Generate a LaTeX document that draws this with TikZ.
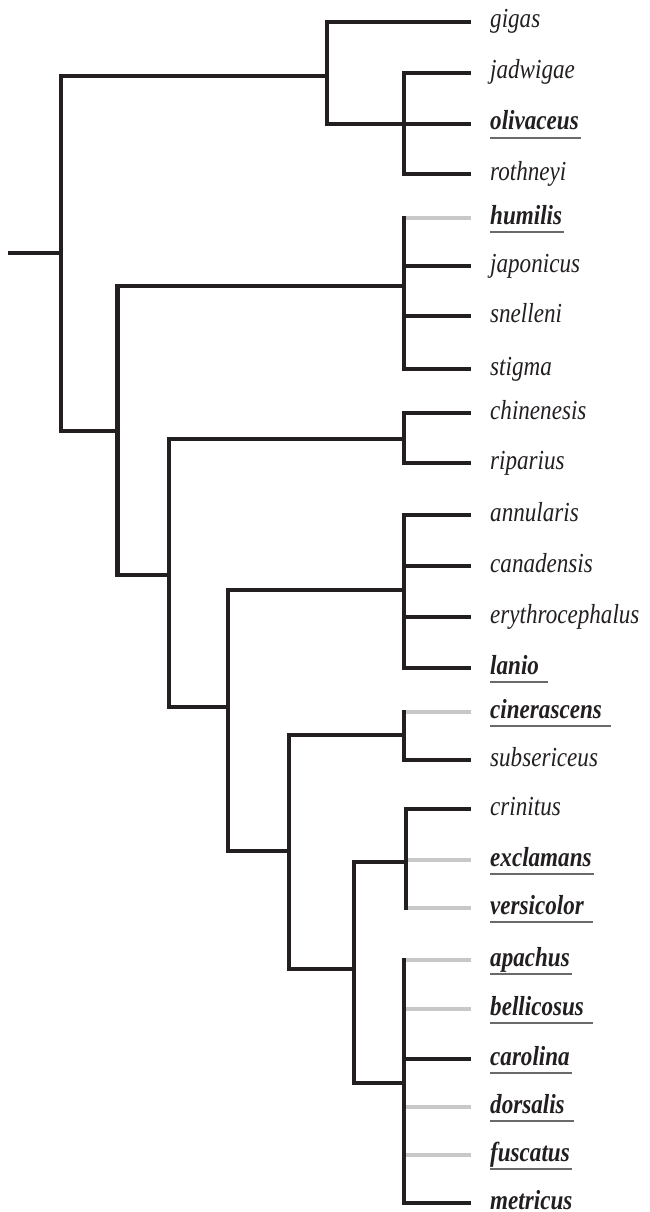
\documentclass[tikz,border=0pt]{standalone}
\usepackage{fontspec}
\setmainfont{Liberation Serif}[FakeStretch=0.84]
\definecolor{ink}{HTML}{231F20}
\definecolor{pale}{HTML}{C8C8C8}
\definecolor{ulc}{HTML}{6A6A6A}
\begin{document}
\begin{tikzpicture}[x=1pt,y=-1pt,
  br/.style={draw=ink, line width=4.6pt, line cap=rect, line join=miter},
  gr/.style={draw=pale, line width=4.2pt, line cap=butt},
  lab/.style={anchor=base west, inner sep=0pt, text=ink, font=\fontsize{27.5}{30}\selectfont\itshape},
  blab/.style={lab, font=\fontsize{27.5}{30}\selectfont\bfseries\itshape},
  ul/.style={draw=ulc, line width=1.1pt}]
\useasboundingbox (0,0) rectangle (649,1212);
% leaf ends
\coordinate (l0) at (469,22);
\coordinate (l1) at (469,73);
\coordinate (l2) at (469,124);
\coordinate (l3) at (469,174);
\coordinate (l4) at (469,218);
\coordinate (l5) at (469,266);
\coordinate (l6) at (469,316);
\coordinate (l7) at (469,369);
\coordinate (l8) at (469,413);
\coordinate (l9) at (469,463);
\coordinate (l10) at (469,515);
\coordinate (l11) at (469,566);
\coordinate (l12) at (469,617);
\coordinate (l13) at (469,668);
\coordinate (l14) at (469,712);
\coordinate (l15) at (469,760);
\coordinate (l16) at (469,809);
\coordinate (l17) at (469,860);
\coordinate (l18) at (469,908);
\coordinate (l19) at (469,960);
\coordinate (l20) at (469,1009);
\coordinate (l21) at (469,1059);
\coordinate (l22) at (469,1107);
\coordinate (l23) at (469,1155);
\coordinate (l24) at (469,1203);
% labels
\node[lab]  (gigas) at ([xshift=21pt,yshift=-6pt]l0) {gigas};
\node[lab]  (jadwigae) at ([xshift=21pt,yshift=-6pt]l1) {jadwigae};
\node[blab] (olivaceus) at ([xshift=21pt,yshift=-6pt]l2) {olivaceus};
\node[lab]  (rothneyi) at ([xshift=21pt,yshift=-6pt]l3) {rothneyi};
\node[blab] (humilis) at ([xshift=21pt,yshift=-6pt]l4) {humilis};
\node[lab]  (japonicus) at ([xshift=21pt,yshift=-6pt]l5) {japonicus};
\node[lab]  (snelleni) at ([xshift=21pt,yshift=-6pt]l6) {snelleni};
\node[lab]  (stigma) at ([xshift=21pt,yshift=-6pt]l7) {stigma};
\node[lab]  (chinenesis) at ([xshift=21pt,yshift=-6pt]l8) {chinenesis};
\node[lab]  (riparius) at ([xshift=21pt,yshift=-6pt]l9) {riparius};
\node[lab]  (annularis) at ([xshift=21pt,yshift=-6pt]l10) {annularis};
\node[lab]  (canadensis) at ([xshift=21pt,yshift=-6pt]l11) {canadensis};
\node[lab]  (erythrocephalus) at ([xshift=21pt,yshift=-6pt]l12) {erythrocephalus};
\node[blab] (lanio) at ([xshift=21pt,yshift=-6pt]l13) {lanio};
\node[blab] (cinerascens) at ([xshift=21pt,yshift=-6pt]l14) {cinerascens};
\node[lab]  (subsericeus) at ([xshift=21pt,yshift=-6pt]l15) {subsericeus};
\node[lab]  (crinitus) at ([xshift=21pt,yshift=-6pt]l16) {crinitus};
\node[blab] (exclamans) at ([xshift=21pt,yshift=-6pt]l17) {exclamans};
\node[blab] (versicolor) at ([xshift=21pt,yshift=-6pt]l18) {versicolor};
\node[blab] (apachus) at ([xshift=21pt,yshift=-6pt]l19) {apachus};
\node[blab] (bellicosus) at ([xshift=21pt,yshift=-6pt]l20) {bellicosus};
\node[blab] (carolina) at ([xshift=21pt,yshift=-6pt]l21) {carolina};
\node[blab] (dorsalis) at ([xshift=21pt,yshift=-6pt]l22) {dorsalis};
\node[blab] (fuscatus) at ([xshift=21pt,yshift=-6pt]l23) {fuscatus};
\node[blab] (metricus) at ([xshift=21pt,yshift=-6pt]l24) {metricus};
% underlines
\foreach \n/\e in {olivaceus/2,humilis/2,lanio/9,cinerascens/9,exclamans/2,versicolor/9,apachus/2,bellicosus/9,carolina/2,dorsalis/9,fuscatus/2}
  \draw[ul] ([yshift=-8pt]\n.base west) -- ([xshift=\e pt,yshift=-8pt]\n.base east);
% internal nodes
\coordinate (S) at (10,253);
\coordinate (R) at (61,253);
\coordinate (A) at (327,76);
\coordinate (A2) at (404,124);
\coordinate (B) at (117.5,431);
\coordinate (B1) at (404,286);
\coordinate (C) at (169,575);
\coordinate (C1) at (404,439);
\coordinate (D) at (228,707);
\coordinate (D1) at (404,590);
\coordinate (E) at (289,851);
\coordinate (E1) at (404,735);
\coordinate (F) at (354,969);
\coordinate (F1) at (406,862);
\coordinate (F2) at (404,1083);
% grey leaf branches
\draw[gr] (B1|-l4) -- ([xshift=2.3pt]l4);
\draw[gr] (E1|-l14) -- ([xshift=2.3pt]l14);
\draw[gr] (F1|-l17) -- ([xshift=2.3pt]l17);
\draw[gr] (F1|-l18) -- ([xshift=2.3pt]l18);
\draw[gr] (F2|-l19) -- ([xshift=2.3pt]l19);
\draw[gr] (F2|-l20) -- ([xshift=2.3pt]l20);
\draw[gr] (F2|-l22) -- ([xshift=2.3pt]l22);
\draw[gr] (F2|-l23) -- ([xshift=2.3pt]l23);
% black leaf branches
\draw[br] (A|-l0) -- (l0);
\draw[br] (A2|-l1) -- (l1);
\draw[br] (A2|-l2) -- (l2);
\draw[br] (A2|-l3) -- (l3);
\draw[br] (B1|-l5) -- (l5);
\draw[br] (B1|-l6) -- (l6);
\draw[br] (B1|-l7) -- (l7);
\draw[br] (C1|-l8) -- (l8);
\draw[br] (C1|-l9) -- (l9);
\draw[br] (D1|-l10) -- (l10);
\draw[br] (D1|-l11) -- (l11);
\draw[br] (D1|-l12) -- (l12);
\draw[br] (D1|-l13) -- (l13);
\draw[br] (E1|-l15) -- (l15);
\draw[br] (F1|-l16) -- (l16);
\draw[br] (F2|-l21) -- (l21);
\draw[br] (F2|-l24) -- (l24);
% stems
\draw[br] (S) -- (R);
\draw[br] (R|-A) -- (A);
\draw[br] (R|-B) -- (B);
\draw[br] (A|-A2) -- (A2);
\draw[br] (B|-B1) -- (B1);
\draw[br] (B|-C) -- (C);
\draw[br] (C|-C1) -- (C1);
\draw[br] (C|-D) -- (D);
\draw[br] (D|-D1) -- (D1);
\draw[br] (D|-E) -- (E);
\draw[br] (E|-E1) -- (E1);
\draw[br] (E|-F) -- (F);
\draw[br] (F|-F1) -- (F1);
\draw[br] (F|-F2) -- (F2);
% verticals
\draw[br] (R|-A) -- (R|-B);
\draw[br] (A|-l0) -- (A|-A2);
\draw[br] (A2|-l1) -- (A2|-l3);
\draw[br] (B|-B1) -- (B|-C);
\draw[br] (B1|-l4) -- (B1|-l7);
\draw[br] (C|-C1) -- (C|-D);
\draw[br] (C1|-l8) -- (C1|-l9);
\draw[br] (D|-D1) -- (D|-E);
\draw[br] (D1|-l10) -- (D1|-l13);
\draw[br] (E|-E1) -- (E|-F);
\draw[br] (E1|-l14) -- (E1|-l15);
\draw[br] (F|-F1) -- (F|-F2);
\draw[br] (F1|-l16) -- (F1|-l18);
\draw[br] (F2|-l19) -- (F2|-l24);
\end{tikzpicture}
\end{document}
